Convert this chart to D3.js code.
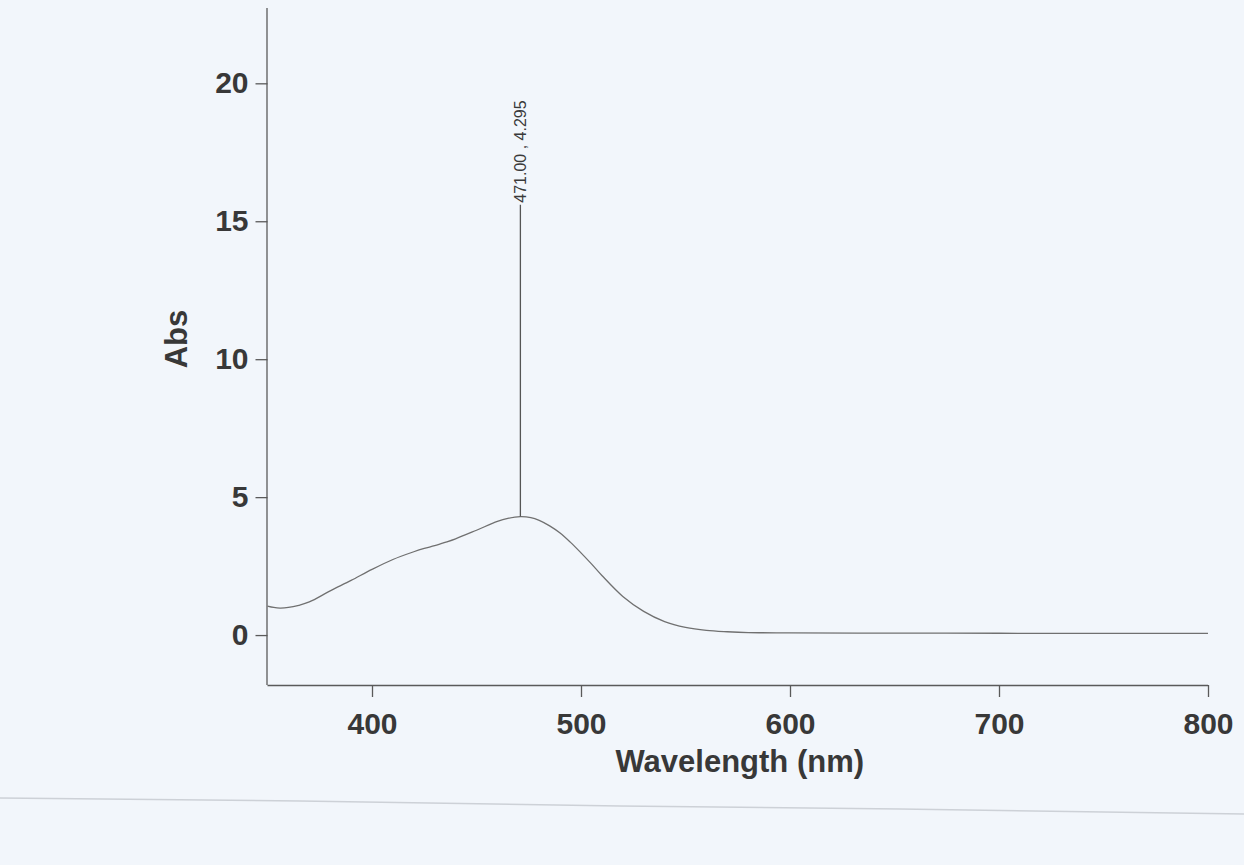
<!DOCTYPE html>
<html>
<head>
<meta charset="utf-8">
<script src="https://cdn.jsdelivr.net/npm/d3@7"></script>
<style>
    body { margin: 0; background: #f2f6fb; }
    svg { display: block; }
    .tick text { font-family: "Liberation Sans", Arial, sans-serif; font-weight: bold; fill: #383838; }
</style>
</head>
<body>
<svg id="chart" width="1244" height="865"></svg>
<script>
// spectrum
var wavelengths = [350, 353, 356, 360, 365, 370, 380, 390, 400, 410, 420, 425, 430, 435, 440, 450, 460, 465, 471, 476, 480, 485, 490, 495, 500, 505, 510, 520, 530, 540, 550, 560, 570, 580, 600, 650, 700, 750, 800];
var absorbance  = [1.05, 1.00, 0.98, 1.00, 1.08, 1.20, 1.60, 1.98, 2.38, 2.74, 3.02, 3.14, 3.24, 3.36, 3.49, 3.80, 4.12, 4.23, 4.295, 4.26, 4.16, 3.96, 3.70, 3.36, 2.98, 2.58, 2.16, 1.40, 0.86, 0.49, 0.28, 0.17, 0.12, 0.09, 0.08, 0.07, 0.065, 0.06, 0.06];

var xTicks = [400, 500, 600, 700, 800];
var yTicks = [0, 5, 10, 15, 20];

var peak = {wl: 471.00, abs: 4.295, labelAt: 15.6, text: "471.00 , 4.295"};

var canvas = d3.select("#chart");

var margin = {top: 8, right: 36, bottom: 180, left: 267.5};
var width = 1244 - margin.left - margin.right;
var height = 865 - margin.top - margin.bottom;

var x = d3.scaleLinear()
    .domain([350, 800])
    .range([0, width]);

var y = d3.scaleLinear()
    .domain([-1.81, 22.73])
    .range([height, 0]);

// faint paper fold across the bottom of the scan
canvas.append("path")
    .attr("d", "M0,798 L300,801 L620,806 L900,809 L1244,814")
    .attr("fill", "none")
    .attr("stroke", "#cdd1d7")
    .attr("stroke-width", 1.6);

var g = canvas.append("g")
    .attr("transform", "translate(" + margin.left + "," + margin.top + ")");

var xAxis = d3.axisBottom(x)
    .tickValues(xTicks)
    .tickSize(12)
    .tickPadding(16)
    .tickFormat(d3.format("d"));

var yAxis = d3.axisLeft(y)
    .tickValues(yTicks)
    .tickSize(12)
    .tickPadding(7)
    .tickFormat(d3.format("d"));

var gx = g.append("g")
    .attr("transform", "translate(0," + height + ")")
    .call(xAxis);

var gy = g.append("g")
    .call(yAxis);

[gx, gy].forEach(function(a) {
    a.select(".domain").attr("stroke", "#5a5a5a").attr("stroke-width", 1.3);
    a.selectAll(".tick line").attr("stroke", "#5a5a5a").attr("stroke-width", 1.3);
    a.selectAll(".tick text").style("font-size", "30px");
});

// straight ends on the axis lines (no outer ticks)
gx.select(".domain").attr("d", "M0,0.5H" + width);
gy.select(".domain").attr("d", "M-0.5," + height + "V0");

var line = d3.line()
    .x(function(d) { return x(d[0]); })
    .y(function(d) { return y(d[1]); })
    .curve(d3.curveCatmullRom);

g.append("path")
    .datum(d3.zip(wavelengths, absorbance))
    .attr("fill", "none")
    .attr("stroke", "#707070")
    .attr("stroke-width", 1.3)
    .attr("d", line);

// peak pick marker
g.append("line")
    .attr("x1", x(peak.wl))
    .attr("x2", x(peak.wl))
    .attr("y1", y(peak.abs))
    .attr("y2", y(peak.labelAt))
    .attr("stroke", "#555")
    .attr("stroke-width", 1.3);

g.append("text")
    .attr("transform", "translate(" + x(peak.wl) + "," + (y(peak.labelAt) - 2) + ") rotate(-90)")
    .attr("dy", "0.36em")
    .style("font-family", "'Liberation Sans', Arial, sans-serif")
    .style("font-size", "16px")
    .style("fill", "#3a3a3a")
    .text(peak.text);

canvas.append("text")
    .attr("x", margin.left + width / 2 + 2)
    .attr("y", 771.5)
    .attr("text-anchor", "middle")
    .style("font-family", "'Liberation Sans', Arial, sans-serif")
    .style("font-weight", "bold")
    .style("font-size", "31px")
    .style("fill", "#383838")
    .text("Wavelength (nm)");

canvas.append("text")
    .attr("transform", "translate(187,339) rotate(-90)")
    .attr("text-anchor", "middle")
    .style("font-family", "'Liberation Sans', Arial, sans-serif")
    .style("font-weight", "bold")
    .style("font-size", "31px")
    .style("fill", "#383838")
    .text("Abs");
</script>
</body>
</html>
